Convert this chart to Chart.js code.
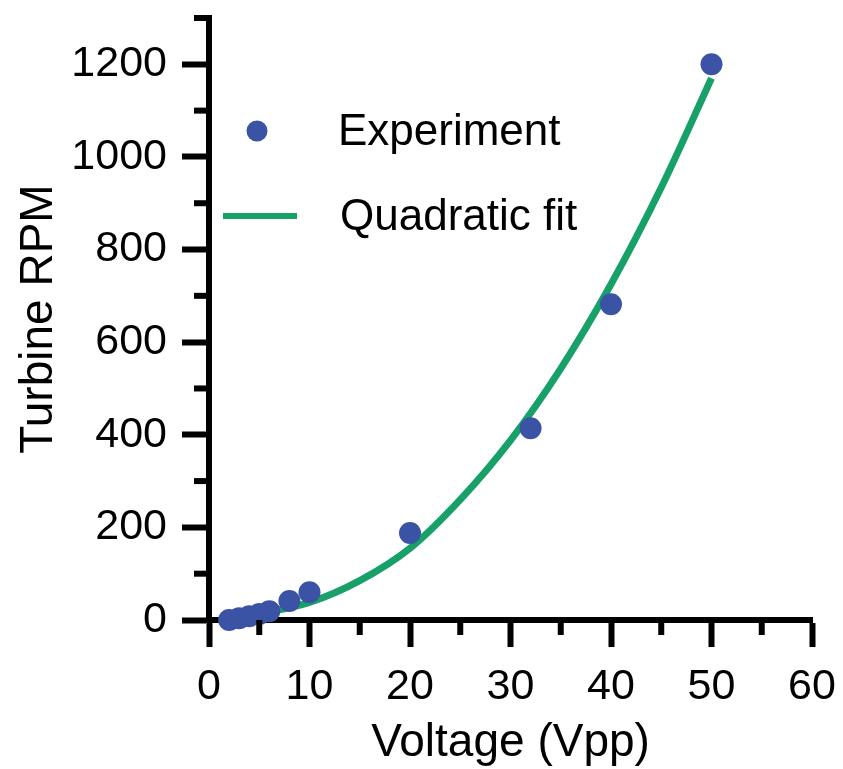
<!DOCTYPE html>
<html>
<head>
<meta charset="utf-8">
<script src="https://cdn.jsdelivr.net/npm/chart.js@4"></script>
<style>
  body { margin: 0; background: #fff; }
  #wrap { width: 843px; height: 769px; }
</style>
</head>
<body>
<div id="wrap"><canvas id="chart"></canvas></div>
<script>
// measured points
const voltage = [2, 3, 4, 5, 6, 8, 10, 20, 32, 40, 50];
const rpm = [0, 4, 8, 13, 19, 41, 60, 188, 414, 682, 1200];

// fit curve
const fitVoltage = [2, 5, 10, 15, 20, 25, 30, 35, 40, 45, 50];
const fitRpm = [5, 14, 38, 85, 155, 260, 388, 543, 725, 934, 1170];

const xMajor = [0, 10, 20, 30, 40, 50, 60];
const xMinor = [5, 15, 25, 35, 45, 55];
const yMajor = [0, 200, 400, 600, 800, 1000, 1200];
const yMinor = [100, 300, 500, 700, 900, 1100, 1300];

const blue = '#3a53a4';
const green = '#17a068';
const font = "'Liberation Sans', Arial, sans-serif";

const extras = {
  id: 'extras',
  afterDatasetsDraw(chart) {
    const ctx = chart.ctx;
    const xs = chart.scales.x, ys = chart.scales.y;
    const area = chart.chartArea;
    ctx.save();
    // minor ticks
    ctx.strokeStyle = '#000';
    ctx.lineWidth = 6;
    yMinor.forEach(v => {
      const py = ys.getPixelForValue(v);
      ctx.beginPath();
      ctx.moveTo(area.left - 15, py);
      ctx.lineTo(area.left, py);
      ctx.stroke();
    });
    xMinor.forEach(v => {
      const px = xs.getPixelForValue(v);
      ctx.beginPath();
      ctx.moveTo(px, area.bottom);
      ctx.lineTo(px, area.bottom + 15);
      ctx.stroke();
    });

    // legend
    const ds = chart.data.datasets;
    ctx.font = '44px ' + font;
    ctx.textBaseline = 'middle';
    ctx.fillStyle = ds[0].backgroundColor;
    ctx.beginPath();
    ctx.arc(257, 131, 10.5, 0, Math.PI * 2);
    ctx.fill();
    ctx.fillStyle = '#000';
    ctx.fillText(ds[0].label, 338, 133);

    ctx.strokeStyle = ds[1].borderColor;
    ctx.lineWidth = 6;
    ctx.beginPath();
    ctx.moveTo(223, 216);
    ctx.lineTo(297, 216);
    ctx.stroke();
    ctx.fillStyle = '#000';
    ctx.fillText(ds[1].label, 340, 218);
    ctx.restore();
  }
};

const isMajor = (list) => (c) => c.tick && list.includes(c.tick.value) ? '#000' : 'transparent';

new Chart(document.getElementById('chart'), {
  type: 'scatter',
  data: {
    datasets: [
      {
        label: 'Experiment',
        data: voltage.map((v, i) => ({ x: v, y: rpm[i] })),
        backgroundColor: blue,
        borderWidth: 0,
        pointRadius: 11,
        clip: false
      },
      {
        label: 'Quadratic fit',
        data: fitVoltage.map((v, i) => ({ x: v, y: fitRpm[i] })),
        showLine: true,
        borderColor: green,
        borderWidth: 7,
        pointRadius: 0,
        cubicInterpolationMode: 'monotone',
        clip: false
      }
    ]
  },
  options: {
    responsive: true,
    maintainAspectRatio: false,
    animation: false,
    layout: { padding: { top: 18, right: 31, left: 0, bottom: 0 } },
    plugins: {
      legend: { display: false },
      tooltip: { enabled: false }
    },
    scales: {
      x: {
        type: 'linear',
        min: 0,
        max: 60,
        afterFit: (s) => { s.height = 149; s.paddingLeft = 0; s.paddingRight = 0; },
        ticks: {
          stepSize: 10,
          color: '#000',
          font: { family: font, size: 43 },
          padding: 14,
          maxRotation: 0
        },
        grid: {
          drawOnChartArea: false,
          tickLength: 27,
          tickWidth: 6,
          tickColor: isMajor(xMajor)
        },
        border: { display: true, color: '#000', width: 6 },
        title: {
          display: true,
          text: 'Voltage (Vpp)',
          color: '#000',
          font: { family: font, size: 46, lineHeight: 1.1 },
          padding: { top: 0, bottom: 0 }
        }
      },
      y: {
        type: 'linear',
        min: 0,
        max: 1300,
        afterFit: (s) => { s.width = 209; s.paddingTop = 0; s.paddingBottom = 0; },
        ticks: {
          stepSize: 100,
          color: '#000',
          font: { family: font, size: 43 },
          padding: 15,
          callback: (v) => yMajor.includes(v) ? v : ''
        },
        grid: {
          drawOnChartArea: false,
          tickLength: 27,
          tickWidth: 6,
          tickColor: isMajor(yMajor)
        },
        border: { display: true, color: '#000', width: 6 },
        title: {
          display: true,
          text: 'Turbine RPM',
          color: '#000',
          font: { family: font, size: 46 },
          padding: { top: 12, bottom: 0 }
        }
      }
    }
  },
  plugins: [extras]
});
</script>
</body>
</html>
